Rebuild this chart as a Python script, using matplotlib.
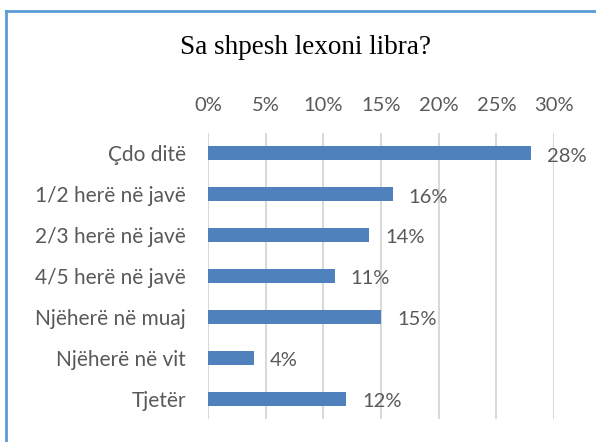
import matplotlib
matplotlib.use("Agg")
import matplotlib.pyplot as plt
from matplotlib.lines import Line2D

categories = ["Çdo ditë", "1/2 herë në javë", "2/3 herë në javë", "4/5 herë në javë",
              "Njëherë në muaj", "Njëherë në vit", "Tjetër"]
values = [28, 16, 14, 11, 15, 4, 12]
tick_values = [0, 5, 10, 15, 20, 25, 30]
tick_labels = ["0%", "5%", "10%", "15%", "20%", "25%", "30%"]
title = "Sa shpesh lexoni libra?"

W, H = 596, 442
fig = plt.figure(figsize=(W / 100, H / 100), dpi=100)
fig.patch.set_facecolor("white")

ax = fig.add_axes([208 / W, 1 - 419 / H, (554 - 208) / W, (419 - 133) / H])
y = list(range(len(categories)))
ax.barh(y, values, height=0.34, color="#4F81BD", zorder=3)
ax.set_ylim(len(categories) - 0.5, -0.5)
ax.set_xlim(0, 30)
ax.set_yticks(y)
ax.set_yticklabels(categories)
ax.set_xticks(tick_values)
ax.set_xticklabels(tick_labels)
ax.xaxis.tick_top()
ax.tick_params(axis="x", length=0, pad=14, labelsize=14.5, colors="#595959")
ax.tick_params(axis="y", length=0, pad=16, labelsize=15, colors="#595959")
for lbl in ax.get_xticklabels() + ax.get_yticklabels():
    lbl.set_family("Lato")
for s in ax.spines.values():
    s.set_visible(False)
ax.grid(axis="x", color="#D9D9D9", linewidth=1.5, zorder=0)
ax.set_axisbelow(True)

for yi, v in zip(y, values):
    ax.annotate(f"{v}%", (v, yi), xytext=(11.5, -2), textcoords="offset points",
                ha="left", va="center", fontsize=14.5, color="#595959", family="Lato")

fig.text(306 / W, 1 - 47 / H, title, ha="center", va="center",
         fontsize=19.5, family="Liberation Serif", color="black")

# border lines (left and top)
fig.add_artist(Line2D([6 / W, 6 / W], [0, 1 - 11 / H], transform=fig.transFigure,
                      color="#5B9BD5", linewidth=2))
fig.add_artist(Line2D([6 / W, 1], [1 - 11 / H, 1 - 11 / H], transform=fig.transFigure,
                      color="#5B9BD5", linewidth=2))

fig.savefig("out.png", dpi=100)
